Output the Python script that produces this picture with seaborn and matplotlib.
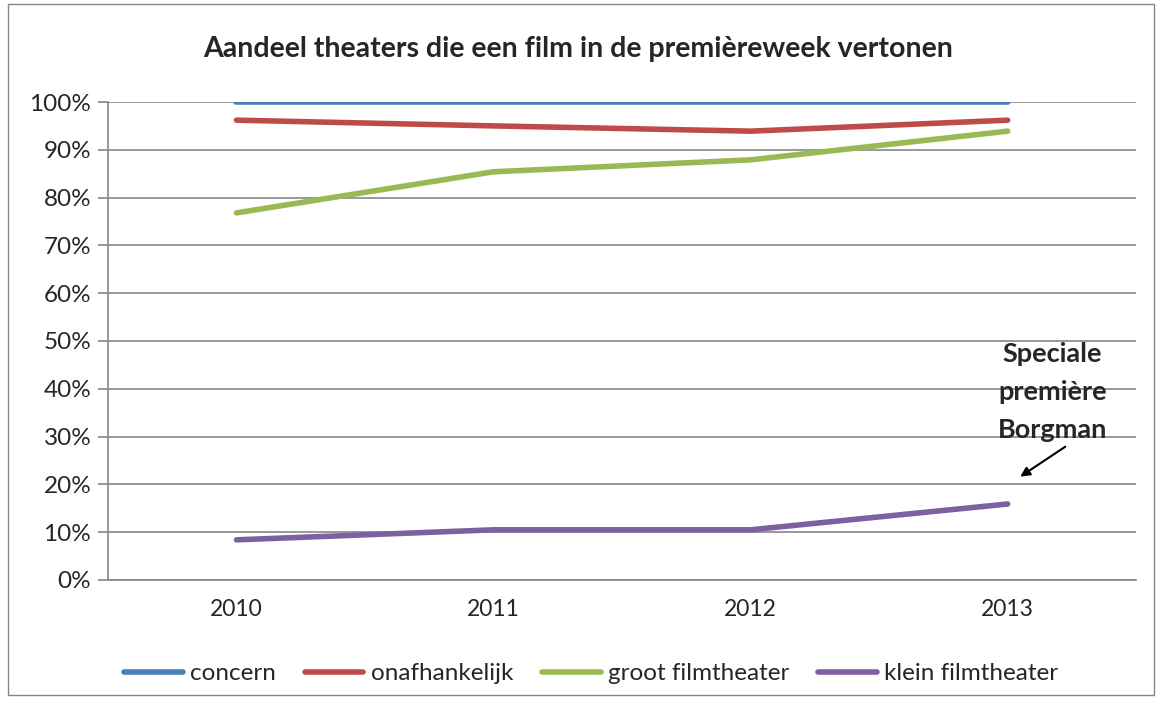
import numpy as np
import pandas as pd
import seaborn as sns
import matplotlib.pyplot as plt
from matplotlib.patches import Rectangle

# data
years = ["2010", "2011", "2012", "2013"]
concern = [100.0, 100.0, 100.0, 100.0]
onafhankelijk = [96.2, 95.0, 93.9, 96.2]
groot = [76.8, 85.4, 87.9, 93.9]
klein = [8.4, 10.5, 10.5, 15.9]
series_names = ["concern", "onafhankelijk", "groot filmtheater", "klein filmtheater"]
colors = ["#4A7EBB", "#BE4B48", "#98B954", "#7D60A0"]

sns.set_style("white")
plt.rcParams["font.family"] = ["Lato", "DejaVu Sans"]

rows = []
for name, vals in zip(series_names, [concern, onafhankelijk, groot, klein]):
    for i, v in enumerate(vals):
        rows.append({"pos": i, "year": years[i], "serie": name, "pct": v})
df = pd.DataFrame(rows)

fig = plt.figure(figsize=(11.57, 7.02), dpi=100)
ax = fig.add_axes([0.0933, 0.1738, 0.8887, 0.6809])

sns.lineplot(data=df, x="pos", y="pct", hue="serie", hue_order=series_names,
             palette=colors, linewidth=4, ax=ax, solid_capstyle="round")

ax.set_xlim(-0.5, 3.5)
ax.set_ylim(0, 100)
ax.set_yticks(np.arange(0, 101, 10))
ax.set_yticklabels([f"{v}%" for v in range(0, 101, 10)], fontsize=17.5)
ax.set_xticks(range(len(years)))
ax.set_xticklabels(years, fontsize=16.5)
ax.set_xticks(np.arange(-0.5, 3.6, 1), minor=True)
ax.tick_params(axis="x", which="major", length=0, pad=14)
ax.tick_params(axis="x", which="minor", length=7, color="#868686", width=1.2)
ax.tick_params(axis="y", length=7, color="#868686", width=1.2, left=True, pad=5)
ax.grid(axis="y", color="#868686", linewidth=1.2)
ax.set_axisbelow(True)
for s in ["top", "right"]:
    ax.spines[s].set_visible(False)
for s in ["left", "bottom"]:
    ax.spines[s].set_color("#868686")
    ax.spines[s].set_linewidth(1.2)
ax.set_xlabel("")
ax.set_ylabel("")

fig.text(0.5, 0.93, "Aandeel theaters die een film in de premièreweek vertonen",
         ha="center", va="center", fontsize=20.5, fontweight="bold")

ax.text(3.175, 39.3, "Speciale\npremière\nBorgman", ha="center", va="center",
        fontsize=19.5, fontweight="bold", linespacing=1.7)
ax.annotate("", xy=(3.04, 21.3), xytext=(3.233, 28.2),
            arrowprops=dict(arrowstyle="-|>", color="black", lw=1.5, mutation_scale=14))

ax.legend(loc="center", bbox_to_anchor=(0.47, -0.196), ncol=4, frameon=False,
          fontsize=17.5, handlelength=2.4, handletextpad=0.3, columnspacing=1.2)

fig.patches.append(Rectangle((0.007, 0.01), 0.99, 0.985, transform=fig.transFigure,
                             fill=False, edgecolor="#868686", linewidth=1))

fig.savefig("out.png", dpi=100)
